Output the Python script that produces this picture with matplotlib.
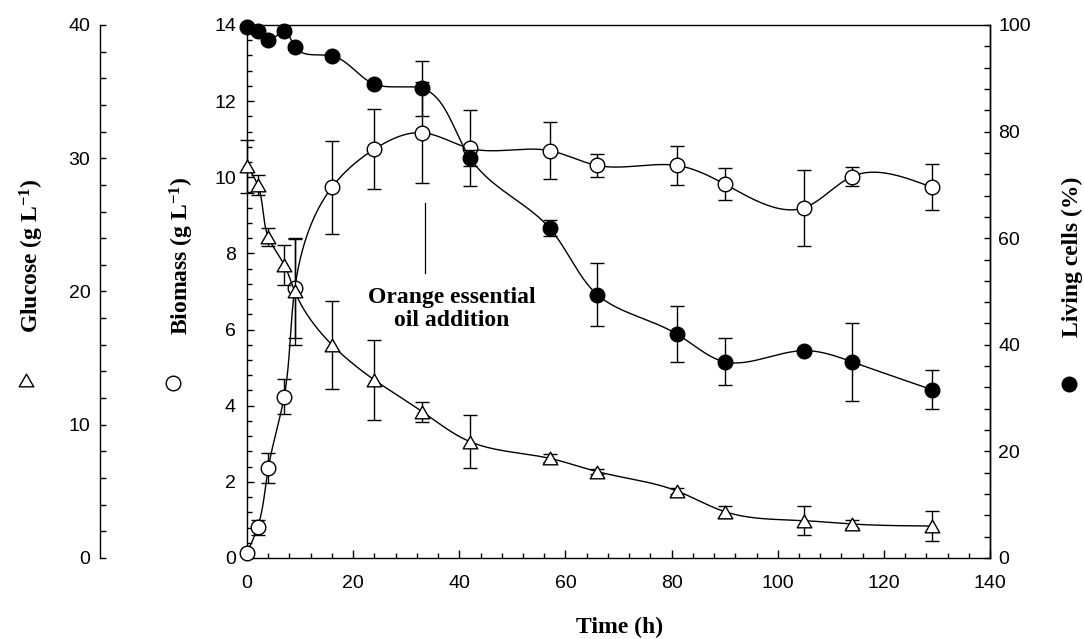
import numpy as np
import matplotlib
matplotlib.use("Agg")
import matplotlib.pyplot as plt
from matplotlib.lines import Line2D
from matplotlib.path import Path
from matplotlib.ticker import MultipleLocator

plt.rcParams['font.family'] = ['Liberation Sans', 'DejaVu Sans']
plt.rcParams['mathtext.fontset'] = 'custom'
plt.rcParams['mathtext.rm'] = 'Liberation Serif:bold'
plt.rcParams['mathtext.it'] = 'Liberation Serif:bold'
plt.rcParams['mathtext.bf'] = 'Liberation Serif:bold'

# Fermentation time course
time_h = [0, 2, 4, 7, 9, 16, 24, 33, 42, 57, 66, 81, 90, 105, 114, 129]
biomass = [0.14, 0.81, 2.36, 4.24, 7.08, 9.74, 10.74, 11.17, 10.76, 10.70,
           10.31, 10.31, 9.82, 9.20, 10.02, 9.74]
biomass_err = [0.05, 0.2, 0.4, 0.47, 1.3, 1.22, 1.06, 1.32, 1.0, 0.74,
               0.3, 0.5, 0.42, 1.0, 0.24, 0.61]
glucose = [29.4, 28.0, 24.1, 22.0, 20.0, 16.0, 13.36, 10.98, 8.73, 7.48,
           6.48, 5.03, 3.48, 2.8, 2.55, 2.4]
glucose_err = [2.0, 0.75, 0.7, 1.5, 4.0, 3.3, 2.97, 0.75, 2.0, 0.3,
               0.2, 0.2, 0.45, 1.1, 0.3, 1.1]
living = [99.7, 98.9, 97.1, 98.9, 95.9, 94.2, 88.9, 88.1, 75.1, 61.9,
          49.4, 42.0, 36.8, 38.9, 36.8, 31.6]
living_err = [0.5, 0.5, 0.5, 0.5, 0.5, 0.5, 0.5, 5.1, 1.5, 1.5,
              5.9, 5.2, 4.4, 0.5, 7.3, 3.7]

addition_time = 33.5
annotation = "Orange essential\noil addition"


def _natural(u, v, us):
    """Natural cubic spline v(u) evaluated at us."""
    n = len(u)
    h = np.diff(u)
    A = np.zeros((n, n))
    rhs = np.zeros(n)
    A[0, 0] = 1.0
    A[-1, -1] = 1.0
    for i in range(1, n - 1):
        A[i, i - 1] = h[i - 1]
        A[i, i] = 2 * (h[i - 1] + h[i])
        A[i, i + 1] = h[i]
        rhs[i] = 6 * ((v[i + 1] - v[i]) / h[i] - (v[i] - v[i - 1]) / h[i - 1])
    M = np.linalg.solve(A, rhs)
    idx = np.clip(np.searchsorted(u, us) - 1, 0, n - 2)
    u0, u1 = u[idx], u[idx + 1]
    hh = u1 - u0
    a = (u1 - us) / hh
    b = (us - u0) / hh
    return a * v[idx] + b * v[idx + 1] + ((a ** 3 - a) * M[idx] + (b ** 3 - b) * M[idx + 1]) * hh ** 2 / 6


def smooth_curve(axes, x, y, num=1500):
    """Parametric spline through the points, spaced by on-screen chord length."""
    fig_w, fig_h = axes.figure.get_size_inches() * axes.figure.dpi
    pos = axes.get_position()
    x0, x1 = axes.get_xlim()
    y0, y1 = axes.get_ylim()
    sx = pos.width * fig_w / (x1 - x0)
    sy = pos.height * fig_h / (y1 - y0)
    px = np.asarray(x, float) * sx
    py = np.asarray(y, float) * sy
    u = np.concatenate([[0.0], np.cumsum(np.hypot(np.diff(px), np.diff(py)))])
    us = np.linspace(0, u[-1], num)
    return _natural(u, px, us) / sx, _natural(u, py, us) / sy


# Equilateral open triangle marker (closed outline)
tri = Path([(-1, -0.866), (1, -0.866), (0, 0.866), (-1, -0.866)],
           [Path.MOVETO, Path.LINETO, Path.LINETO, Path.CLOSEPOLY])
MS = 10.5
LW = 1.0
CAP = 5

fig = plt.figure(figsize=(10.84, 6.39), dpi=100)
ax = fig.add_axes([0.2279, 0.1268, 0.6854, 0.8341])
ax_l = ax.twinx()
ax_g = ax.twinx()

ax.set_xlim(0, 140)
ax.set_ylim(0, 14)
ax_l.set_ylim(0, 100)
ax_g.set_ylim(0, 40)

# Biomass (host axes)
ax.errorbar(time_h, biomass, yerr=biomass_err, fmt='none', ecolor='black',
            elinewidth=LW, capsize=CAP, capthick=LW, clip_on=False, zorder=2)
xs, ys = smooth_curve(ax, time_h, biomass)
ax.plot(xs, ys, color='black', lw=LW, zorder=2)
ax.plot(time_h, biomass, linestyle='none', marker='o', ms=MS, mfc='white',
        mec='black', mew=LW, clip_on=False, zorder=3)

# Living cells
ax_l.errorbar(time_h, living, yerr=living_err, fmt='none', ecolor='black',
              elinewidth=LW, capsize=CAP, capthick=LW, clip_on=False, zorder=2)
xs, ys = smooth_curve(ax_l, time_h, living)
ax_l.plot(xs, ys, color='black', lw=LW, zorder=2)
ax_l.plot(time_h, living, linestyle='none', marker='o', ms=MS, mfc='black',
          mec='black', mew=LW, clip_on=False, zorder=3)

# Glucose
ax_g.errorbar(time_h, glucose, yerr=glucose_err, fmt='none', ecolor='black',
              elinewidth=LW, capsize=CAP, capthick=LW, clip_on=False, zorder=2)
xs, ys = smooth_curve(ax_g, time_h, glucose)
ax_g.plot(xs, ys, color='black', lw=LW, zorder=2)
ax_g.plot(time_h, glucose, linestyle='none', marker=tri, ms=MS, mfc='white',
          mec='black', mew=LW, clip_on=False, zorder=3)

# Oil addition marker
ax.plot([addition_time, addition_time], [7.49, 9.32], color='black', lw=0.9)
ax.text(38.5, 6.54, annotation, ha='center', va='center', multialignment='center',
        fontsize=17, fontweight='bold', family='Liberation Serif', linespacing=1.1)

# Spines and ticks
for s in ['top', 'bottom', 'left', 'right']:
    ax.spines[s].set_linewidth(LW)
ax.xaxis.set_major_locator(MultipleLocator(20))
ax.xaxis.set_minor_locator(MultipleLocator(4))
ax.yaxis.set_major_locator(MultipleLocator(2))
ax.yaxis.set_minor_locator(MultipleLocator(0.4))
ax.tick_params(axis='x', which='both', direction='in', top=False, labelsize=14, pad=12, width=LW)
ax.tick_params(axis='x', which='major', length=5.8)
ax.tick_params(axis='x', which='minor', length=3.3)
ax.tick_params(axis='y', which='both', direction='in', right=False, labelsize=14, pad=8, width=LW)
ax.tick_params(axis='y', which='major', length=5)
ax.tick_params(axis='y', which='minor', length=3.5)

for s in ['top', 'bottom', 'left']:
    ax_l.spines[s].set_visible(False)
ax_l.spines['right'].set_linewidth(LW)
ax_l.yaxis.set_major_locator(MultipleLocator(20))
ax_l.yaxis.set_minor_locator(MultipleLocator(4))
ax_l.tick_params(axis='y', which='both', direction='in', labelsize=14, pad=6,
                 length=4.3, width=LW)

for s in ['top', 'bottom', 'right']:
    ax_g.spines[s].set_visible(False)
ax_g.spines['left'].set_visible(True)
ax_g.spines['left'].set_position(('axes', -0.1978))
ax_g.spines['left'].set_linewidth(LW)
ax_g.yaxis.tick_left()
ax_g.yaxis.set_major_locator(MultipleLocator(10))
ax_g.yaxis.set_minor_locator(MultipleLocator(2))
ax_g.tick_params(axis='y', which='both', direction='in', labelsize=14, pad=7,
                 length=4.5, width=LW)

# Axis titles with symbol keys
lab = dict(fontsize=17, fontweight='bold', family='Liberation Serif')
fig.text(620 / 1084, 1 - 627 / 639, 'Time (h)', ha='center', va='center', **lab)
fig.text(32 / 1084, 1 - 256 / 639, 'Glucose (g L$^{-1}$)', rotation=90,
         ha='center', va='center', **lab)
fig.text(182 / 1084, 1 - 256 / 639, 'Biomass (g L$^{-1}$)', rotation=90,
         ha='center', va='center', **lab)
fig.text(1072 / 1084, 1 - 257 / 639, 'Living cells (%)', rotation=90,
         ha='center', va='center', **lab)

fig.add_artist(Line2D([26 / 1084], [1 - 380 / 639], marker=tri, ms=MS, mfc='white',
                      mec='black', mew=LW, transform=fig.transFigure))
fig.add_artist(Line2D([173 / 1084], [1 - 383 / 639], marker='o', ms=MS, mfc='white',
                      mec='black', mew=LW, transform=fig.transFigure))
fig.add_artist(Line2D([1069 / 1084], [1 - 384 / 639], marker='o', ms=MS, mfc='black',
                      mec='black', mew=LW, transform=fig.transFigure))

fig.savefig('out.png', dpi=100)
